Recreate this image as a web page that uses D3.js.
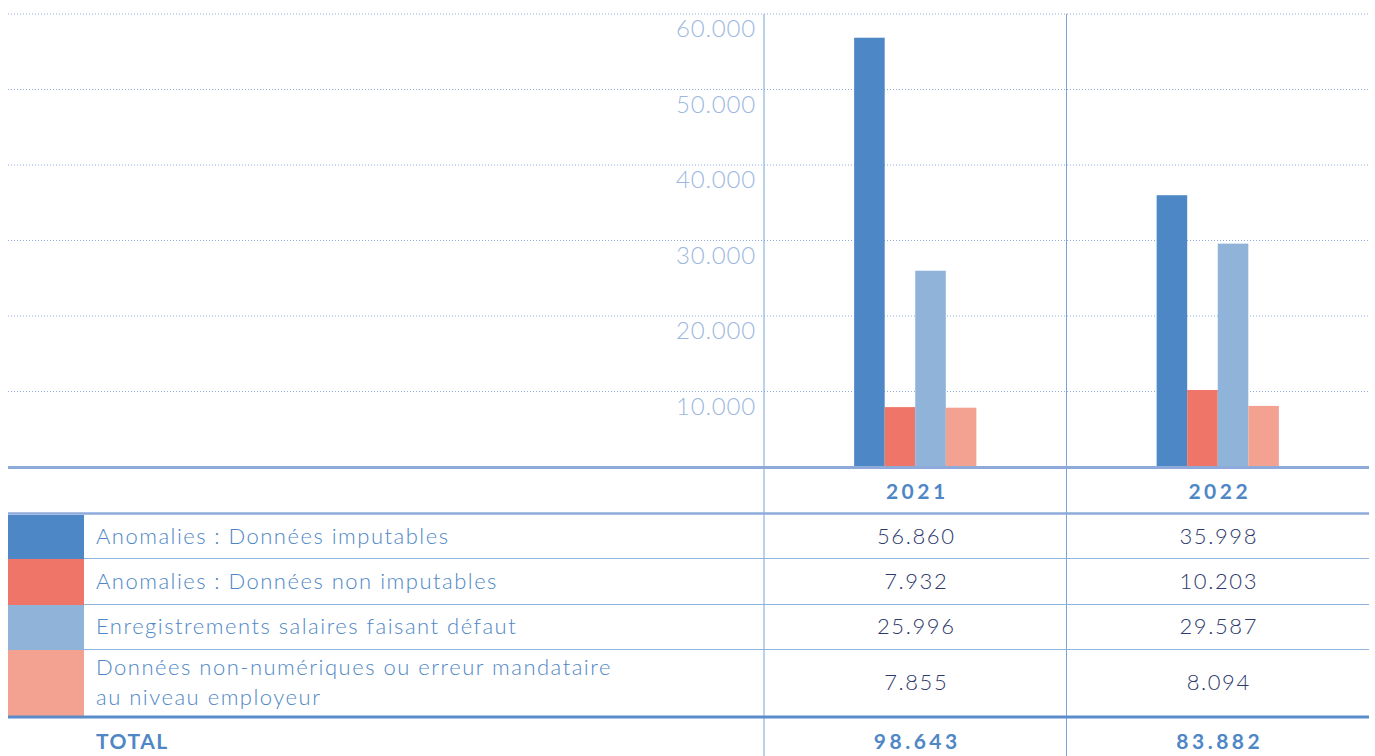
<!DOCTYPE html>
<html>
<head>
<meta charset="utf-8">
<script src="https://cdn.jsdelivr.net/npm/d3@7"></script>
<style>
  body { margin: 0; background: #fff; }
  svg { display: block; font-family: "Lato", "Open Sans", sans-serif; }
</style>
</head>
<body>
<div class="chart"></div>
<script>
// data
const years = ["2021", "2022"];
const seriesLabels = [
    ["Anomalies\u202F: Données imputables"],
    ["Anomalies\u202F: Données non imputables"],
    ["Enregistrements salaires faisant défaut"],
    ["Données non-numériques ou erreur mandataire", "au niveau employeur"]
];
const values2021 = [56860, 7932, 25996, 7855];
const values2022 = [35998, 10203, 29587, 8094];
const totals = [98643, 83882];
const yTicks = [10000, 20000, 30000, 40000, 50000, 60000];
const colors = ["#4d87c6", "#ee7567", "#8fb3d9", "#f3a291"];

const valuesByYear = [values2021, values2022];

const Width = 1375, Height = 756;
const left = 8, right = 1369, colStart = 764;
const plotTop = 14, plotBottom = 467;

// table rows: [top, bottom]
const rowBands = [[514, 558], [558, 604], [604, 649], [649, 716]];
const headerY = 491, totalY = 741;

const fmt = d3.formatLocale({decimal: ",", thousands: ".", grouping: [3], currency: ["", "€"]}).format(",d");

const svg = d3.select(".chart")
    .append("svg")
    .attr("width", Width)
    .attr("height", Height);

// scales
const y = d3.scaleLinear().domain([0, 60000]).range([plotBottom, plotTop]);
const x0 = d3.scaleBand().domain(years).range([colStart, right]);
const x1 = d3.scaleBand().domain(d3.range(4)).range([0, x0.bandwidth()]).paddingOuter(2.95);

// gridlines
svg.append("g")
    .selectAll("line")
    .data(yTicks)
    .join("line")
    .attr("x1", left).attr("x2", right)
    .attr("y1", d => y(d)).attr("y2", d => y(d))
    .attr("stroke", "#8eaadb")
    .attr("stroke-width", 1)
    .attr("stroke-dasharray", "1,2");

// Y axis labels (below each gridline)
const yAxis = svg.append("g")
    .attr("transform", "translate(" + colStart + ",0)")
    .call(d3.axisLeft(y).tickValues(yTicks).tickFormat(fmt).tickSize(0).tickPadding(8));
yAxis.select(".domain").remove();
yAxis.selectAll("text")
    .attr("dy", "0.95em")
    .attr("fill", "#9cb8e0")
    .style("font-size", "24px")
    .style("font-weight", 300)
    .style("letter-spacing", "0.8px")
    .style("font-family", "Lato, sans-serif");

// bars
const groups = svg.append("g")
    .selectAll("g")
    .data(years)
    .join("g")
    .attr("transform", d => "translate(" + x0(d) + ",0)");

groups.selectAll("rect")
    .data((d, i) => valuesByYear[i].map((v, k) => ({k, v})))
    .join("rect")
    .attr("x", d => x1(d.k))
    .attr("width", x1.bandwidth())
    .attr("y", d => y(d.v))
    .attr("height", d => plotBottom - y(d.v))
    .attr("fill", d => colors[d.k]);

// vertical column lines
svg.append("g")
    .selectAll("line")
    .data(years)
    .join("line")
    .attr("x1", d => x0(d)).attr("x2", d => x0(d))
    .attr("y1", plotTop).attr("y2", Height)
    .attr("stroke", "#7aa3d8")
    .attr("stroke-width", 1);

// baseline
svg.append("line")
    .attr("x1", left).attr("x2", right)
    .attr("y1", plotBottom + 0.5).attr("y2", plotBottom + 0.5)
    .attr("stroke", "#8eaadb").attr("stroke-width", 3);

// header years
svg.append("g")
    .selectAll("text")
    .data(years)
    .join("text")
    .attr("x", d => x0(d) + x0.bandwidth() / 2 + 2)
    .attr("y", headerY)
    .attr("dy", "0.36em")
    .attr("text-anchor", "middle")
    .attr("fill", "#4f87c6")
    .style("font-size", "21px")
    .style("font-weight", 700)
    .style("letter-spacing", "3.5px")
    .text(d => d);

svg.append("line")
    .attr("x1", left).attr("x2", right)
    .attr("y1", 513.5).attr("y2", 513.5)
    .attr("stroke", "#8eaadb").attr("stroke-width", 2.5);

// legend swatches
svg.append("g")
    .selectAll("rect")
    .data(rowBands)
    .join("rect")
    .attr("x", left)
    .attr("width", 76)
    .attr("y", d => d[0] + 1)
    .attr("height", d => d[1] - d[0])
    .attr("fill", (d, i) => colors[i]);

// row separators
svg.append("g")
    .selectAll("line")
    .data(rowBands.slice(0, 3))
    .join("line")
    .attr("x1", left + 76).attr("x2", right)
    .attr("y1", d => d[1] + 0.5).attr("y2", d => d[1] + 0.5)
    .attr("stroke", "#8eb3dd").attr("stroke-width", 1);

// row labels
const labels = svg.append("g")
    .selectAll("text")
    .data(seriesLabels)
    .join("text")
    .attr("x", 96)
    .attr("y", (d, i) => (rowBands[i][0] + rowBands[i][1]) / 2 - (d.length - 1) * 15)
    .attr("fill", "#4f87c6")
    .style("font-size", "22px")
    .style("font-weight", 300)
    .style("letter-spacing", "1.5px");
labels.selectAll("tspan")
    .data(d => d)
    .join("tspan")
    .attr("x", 96)
    .attr("dy", (d, i) => i === 0 ? "0.36em" : "30px")
    .text(d => d);

// row values
years.forEach((yr, j) => {
    svg.append("g")
        .selectAll("text")
        .data(valuesByYear[j])
        .join("text")
        .attr("x", x0(yr) + x0.bandwidth() / 2 + 1)
        .attr("y", (d, i) => (rowBands[i][0] + rowBands[i][1]) / 2)
        .attr("dy", "0.36em")
        .attr("text-anchor", "middle")
        .attr("fill", "#2e3a6c")
        .style("font-size", "22px")
        .style("font-weight", 300)
        .style("letter-spacing", "1.6px")
        .text(d => fmt(d));
});

// total separator
svg.append("line")
    .attr("x1", left).attr("x2", right)
    .attr("y1", 717).attr("y2", 717)
    .attr("stroke", "#5a8bcb").attr("stroke-width", 3);

// total row
svg.append("text")
    .attr("x", 96)
    .attr("y", totalY)
    .attr("dy", "0.36em")
    .attr("fill", "#4f87c6")
    .style("font-size", "21px")
    .style("font-weight", 700)
    .style("letter-spacing", "1.5px")
    .text("TOTAL");

svg.append("g")
    .selectAll("text")
    .data(totals)
    .join("text")
    .attr("x", (d, i) => x0(years[i]) + x0.bandwidth() / 2 + 2)
    .attr("y", totalY)
    .attr("dy", "0.36em")
    .attr("text-anchor", "middle")
    .attr("fill", "#4f87c6")
    .style("font-size", "21px")
    .style("font-weight", 700)
    .style("letter-spacing", "3.5px")
    .text(d => fmt(d));
</script>
</body>
</html>
